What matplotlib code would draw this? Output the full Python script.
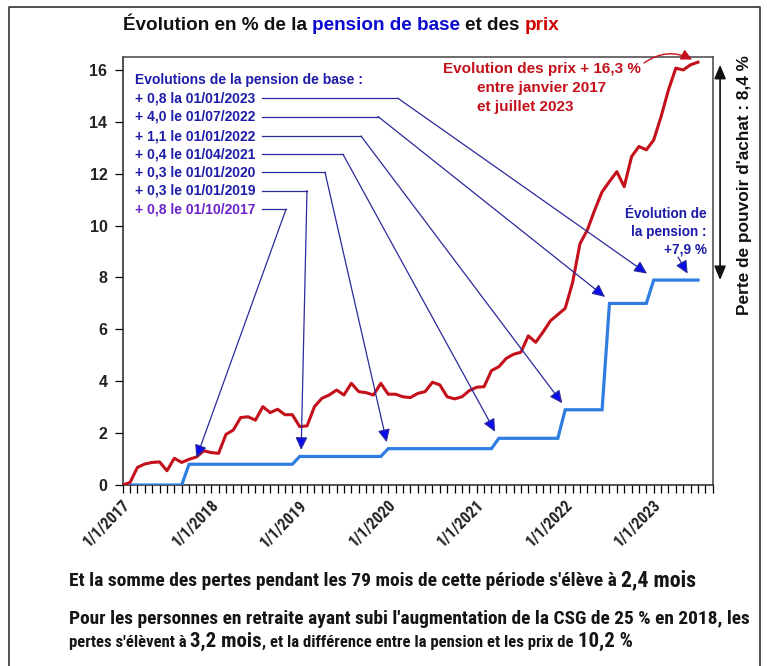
import matplotlib
matplotlib.use("Agg")
import matplotlib.pyplot as plt
from matplotlib.lines import Line2D
from matplotlib import font_manager as fm

W, H, DPI = 767, 666, 100

# ---------------- data ----------------
months = list(range(79))  # Jan 2017 .. Jul 2023
prices = [0, 0.1, 0.68, 0.81, 0.87, 0.89, 0.55, 1.03, 0.87, 0.99, 1.08,
          1.32, 1.25, 1.22, 1.95, 2.12, 2.6, 2.63, 2.5, 3.02, 2.79,
          2.92, 2.71, 2.71, 2.25, 2.28, 3.02, 3.34, 3.47, 3.66, 3.47,
          3.92, 3.6, 3.56, 3.47, 3.92, 3.5, 3.5, 3.4, 3.37, 3.53,
          3.6, 3.96, 3.86, 3.4, 3.32, 3.4, 3.64, 3.77, 3.79, 4.41,
          4.56, 4.88, 5.04, 5.12, 5.75, 5.5, 5.9, 6.33, 6.57, 6.81,
          7.8, 9.3, 9.83, 10.6, 11.3, 11.7, 12.08, 11.5, 12.66, 13.05,
          12.92, 13.3, 14.2, 15.23, 16.07, 16.0, 16.2, 16.3]
pension = [0, 0, 0, 0, 0, 0, 0, 0, 0,
           0.8, 0.8, 0.8, 0.8, 0.8, 0.8, 0.8, 0.8, 0.8, 0.8, 0.8, 0.8, 0.8, 0.8, 0.8,
           1.1, 1.1, 1.1, 1.1, 1.1, 1.1, 1.1, 1.1, 1.1, 1.1, 1.1, 1.1,
           1.4, 1.4, 1.4, 1.4, 1.4, 1.4, 1.4, 1.4, 1.4, 1.4, 1.4, 1.4, 1.4, 1.4, 1.4,
           1.8, 1.8, 1.8, 1.8, 1.8, 1.8, 1.8, 1.8, 1.8,
           2.9, 2.9, 2.9, 2.9, 2.9, 2.9,
           7.0, 7.0, 7.0, 7.0, 7.0, 7.0,
           7.9, 7.9, 7.9, 7.9, 7.9, 7.9, 7.9]
year_ticks = [0, 12, 24, 36, 48, 60, 72]
year_labels = ["1/1/2017", "1/1/2018", "1/1/2019", "1/1/2020",
               "1/1/2021", "1/1/2022", "1/1/2023"]
y_ticks = [0, 2, 4, 6, 8, 10, 12, 14, 16]
step_labels = ["+ 0,8 la 01/01/2023", "+ 4,0 le 01/07/2022", "+ 1,1 le 01/01/2022",
               "+ 0,4 le 01/04/2021", "+ 0,3 le 01/01/2020", "+ 0,3 le 01/01/2019",
               "+ 0,8 le 01/10/2017"]
step_months = [72, 66, 60, 51, 36, 24, 9]

# ---------------- fonts ----------------
BOLD_FP = fm.FontProperties(family="Liberation Sans", weight="bold")


def find_narrow():
    prefs = ["Liberation Sans Narrow", "Arial Narrow", "DejaVu Sans Condensed",
             "Roboto Condensed", "Open Sans Condensed", "Noto Sans Condensed"]
    entries = fm.fontManager.ttflist
    for p in prefs:
        for e in entries:
            if e.name == p and e.weight in ("bold", 700) and e.style == "normal":
                return fm.FontProperties(fname=e.fname)
    for e in entries:
        if (("Narrow" in e.name or "Condensed" in e.name or
             str(e.stretch) in ("condensed", "semi-condensed"))
                and e.weight in ("bold", 700, "semibold", 600) and e.style == "normal"):
            return fm.FontProperties(fname=e.fname)
    return None


NARROW_FP = find_narrow()
if NARROW_FP is None:
    NARROW_FP = BOLD_FP

RED = "#c4101a"
BLUE_LINE = "#2f7de1"
NAVY = "#1c1ca8"
PURPLE = "#6a22c8"
LEADER = "#2a2a9a"
HEAD = "#0a0af0"

fig = plt.figure(figsize=(W / DPI, H / DPI), dpi=DPI)
renderer = fig.canvas.get_renderer()


def fx(x):
    return x / W


def fy(y):
    return 1 - y / H


def fp_size(fp, size):
    q = fp.copy()
    q.set_size(size)
    return q


ax = fig.add_axes([fx(122.7), fy(485), (712.7 - 122.7) / W, (485 - 57) / H])
ax.plot(months, pension, color=BLUE_LINE, lw=2.3, zorder=3, solid_joinstyle="miter")
ax.plot(months, prices, color=RED, lw=2.2, zorder=4)
ax.set_xlim(0, 80)
ax.set_ylim(0, 16.5)
ax.set_yticks(y_ticks)
ax.set_yticklabels([str(v) for v in y_ticks], fontproperties=fp_size(BOLD_FP, 11.5),
                   color="#222222")
ax.set_xticks(year_ticks)
ax.set_xticklabels(year_labels, rotation=45, ha="right", va="top",
                   rotation_mode="anchor", fontproperties=fp_size(NARROW_FP, 11.5),
                   color="#222222")
ax.set_xticks(list(range(0, 81)), minor=True)
ax.tick_params(axis="x", which="both", direction="out", length=6, width=0.9, pad=3)
ax.tick_params(axis="y", direction="out", length=6, width=0.9, pad=5)
for s in ax.spines.values():
    s.set_linewidth(1.1)
    s.set_color("#222222")
ax.spines["top"].set_color("#444444")
ax.spines["right"].set_color("#444444")


def seg_width(s, size, fp):
    t = fig.text(0, 0, "|" + s + "|", fontproperties=fp_size(fp, size))
    t2 = fig.text(0, 0, "||", fontproperties=fp_size(fp, size))
    w = t.get_window_extent(renderer).width - t2.get_window_extent(renderer).width
    t.remove()
    t2.remove()
    return w


def rich(x, y, segs, width=None, base=10, fp=BOLD_FP, ha="left"):
    """segs: list of (text, color, scale). x,y in pixels from top-left; y is baseline."""
    if width is not None:
        tot = sum(seg_width(s, 10 * k, fp) for s, c, k in segs)
        base = 10 * width / tot
    widths = [seg_width(s, base * k, fp) for s, c, k in segs]
    tot = sum(widths)
    if ha == "center":
        x0 = x - tot / 2
    elif ha == "right":
        x0 = x - tot
    else:
        x0 = x
    cx = x0
    for (s, c, k), w in zip(segs, widths):
        fig.text(fx(cx), fy(y), s, fontproperties=fp_size(fp, base * k), color=c,
                 ha="left", va="baseline")
        cx += w
    return base


# Title
rich(122.7, 29.5, [("Évolution en % de la ", "#111111", 1), ("pension de base ", "#0a0ad0", 1),
                   ("et des ", "#111111", 1), ("prix", "#d00000", 1)], width=436)

# Blue block of increases
block_base = rich(135, 84, [("Evolutions de la pension de base :", NAVY, 1)], width=227)
line_centers = [98.3, 116.5, 136, 154.3, 172.3, 190.5, 209.3]
elbows = [398, 378, 361, 343, 325, 307, 286]
tip_dx = [-0.9, -0.6, -0.4, -0.5, -0.2, 0.2, 1.0]
for lab, yc, ex, m, dx in zip(step_labels, line_centers, elbows, step_months, tip_dx):
    col = PURPLE if lab.endswith("2017") else NAVY
    rich(135, yc + 4.2, [(lab, col, 1)], base=block_base)
    fig.add_artist(Line2D([fx(262), fx(ex)], [fy(yc), fy(yc)], color=LEADER, lw=0.9,
                          transform=fig.transFigure))
    ax.annotate("", xy=(m + dx, pension[m] + 0.25), xycoords="data",
                xytext=(fx(ex), fy(yc)), textcoords="figure fraction",
                arrowprops=dict(arrowstyle="-|>,head_length=0.55,head_width=0.26",
                                mutation_scale=14, lw=0.9, ec=LEADER, fc=HEAD,
                                shrinkA=0, shrinkB=0),
                annotation_clip=False, zorder=6)

# Red price text
rbase = rich(541.5, 73, [("Evolution des prix + 16,3 %", RED, 1)], width=197, ha="center")
rich(541.5, 92, [("entre janvier 2017", RED, 1)], base=rbase, ha="center")
rich(477, 111.5, [("et juillet 2023", RED, 1)], base=rbase)
ax.annotate("", xy=(months[-1] - 0.8, prices[-1] + 0.1), xycoords="data",
            xytext=(fx(644), fy(63)), textcoords="figure fraction",
            arrowprops=dict(arrowstyle="-|>,head_length=0.5,head_width=0.25",
                            mutation_scale=13, lw=1.0, color=RED,
                            connectionstyle="arc3,rad=-0.3", shrinkA=0, shrinkB=0),
            annotation_clip=False, zorder=6)

# Pension text
pbase = rich(706.7, 218, [("Évolution de", NAVY, 1)], width=82, ha="right")
rich(706.7, 236, [("la pension :", NAVY, 1)], base=pbase, ha="right")
rich(706.7, 254, [("+7,9 %", NAVY, 1)], base=pbase, ha="right")
ax.annotate("", xy=(months[-1] - 1.4, pension[-1] + 0.25), xycoords="data",
            xytext=(fx(678), fy(257)), textcoords="figure fraction",
            arrowprops=dict(arrowstyle="-|>,head_length=0.55,head_width=0.26",
                            mutation_scale=14, lw=0.9, ec=LEADER, fc=HEAD,
                            shrinkA=0, shrinkB=0),
            annotation_clip=False, zorder=6)

# Loss of purchasing power arrow + text
ax.annotate("", xy=(81, pension[-1]), xycoords="data",
            xytext=(81, prices[-1] - 0.1), textcoords="data",
            arrowprops=dict(arrowstyle="<|-|>,head_length=0.6,head_width=0.25",
                            mutation_scale=14, lw=1.2, color="#111111",
                            shrinkA=0, shrinkB=0),
            annotation_clip=False)
tmp = seg_width("Perte de pouvoir d'achat : 8,4 %", 10, BOLD_FP)
fig.text(fx(744), fy(185), "Perte de pouvoir d'achat : 8,4 %", rotation=90,
         fontproperties=fp_size(BOLD_FP, 10 * 260 / tmp), color="#111111",
         ha="center", va="center")

# Outer frame
fig.add_artist(Line2D([fx(9), fx(9), fx(760), fx(760)], [fy(666), fy(7), fy(7), fy(666)],
                      color="#333333", lw=1.2, transform=fig.transFigure))

# Bottom texts
DARK = "#151515"
rich(69, 586, [("Et la somme des pertes pendant les 79 mois de cette période s'élève à ", DARK, 1),
               ("2,4 mois", DARK, 1.12)], width=627, fp=NARROW_FP)
rich(69, 624, [("Pour les personnes en retraite ayant subi l'augmentation de la CSG de 25 % en 2018, les",
                DARK, 1)], width=682, fp=NARROW_FP)
rich(69, 646.5, [("pertes s'élèvent à ", DARK, 1), ("3,2 mois", DARK, 1.25),
                 (", et la différence entre la pension et les prix de ", DARK, 1),
                 ("10,2 %", DARK, 1.25)], width=563, fp=NARROW_FP)

fig.savefig("out.png", dpi=DPI)
